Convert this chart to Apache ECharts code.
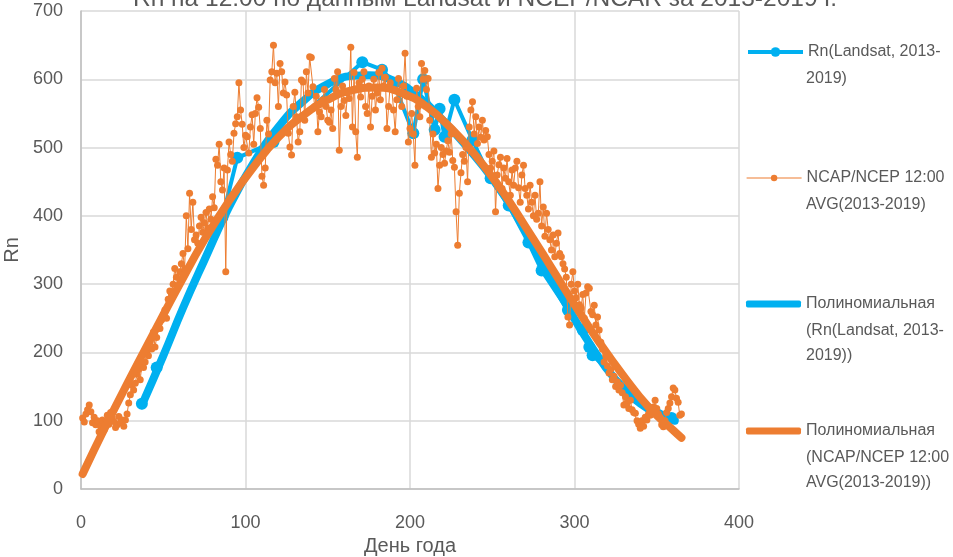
<!DOCTYPE html>
<html><head><meta charset="utf-8">
<script src="https://cdn.jsdelivr.net/npm/echarts@6/dist/echarts.min.js"></script>
<style>html,body{margin:0;padding:0;background:#fff}#c{width:953px;height:557px}</style>
</head><body><div id="c"></div>
<script>
// ---- DATA ----
const titleText = 'Rn на 12:00 по данным Landsat и NCEP/NCAR за 2013-2019 г.';
const xTicks = [0, 100, 200, 300, 400];
const yTicks = [0, 100, 200, 300, 400, 500, 600, 700];
const seriesNames = [
  'Rn(Landsat, 2013-2019)',
  'NCAP/NCEP 12:00 AVG(2013-2019)',
  'Полиномиальная (Rn(Landsat, 2013-2019))',
  'Полиномиальная (NCAP/NCEP 12:00 AVG(2013-2019))'
];
// legend text as wrapped in the picture
const legendLines = [
  ['Rn(Landsat, 2013-', '2019)'],
  ['NCAP/NCEP 12:00', 'AVG(2013-2019)'],
  ['Полиномиальная', '(Rn(Landsat, 2013-', '2019))'],
  ['Полиномиальная', '(NCAP/NCEP 12:00', 'AVG(2013-2019))']
];
// Landsat observations: [day of year, Rn]
const landsatDays = [37, 46, 86, 95, 117, 171, 183, 190, 202, 208, 215, 218, 221, 227, 238, 249, 260, 272, 280, 296, 305, 309, 311, 338, 359];
const landsatRn   = [125, 178, 398, 485, 508, 625, 614, 595, 521, 600, 526, 557, 516, 570, 511, 455, 415, 361, 320, 262, 233, 208, 196, 133, 104];
// NCEP/NCAR 12:00 average, one value per day of year (1..365)
const ncepRn = [
  104, 98, 110, 116, 123, 113, 97, 105, 94, 100,
  84, 92, 101, 86, 98, 108, 95, 112, 104, 99,
  90, 94, 106, 97, 101, 92, 101, 110, 126, 138,
  152, 145, 155, 168, 175, 160, 182, 178, 186, 200,
  195, 215, 205, 230, 208, 222, 240, 235, 248, 255,
  262, 250, 278, 290, 285, 300, 323, 310, 296, 318,
  330, 345, 322, 400, 352, 433, 380, 420, 365, 372,
  360, 385, 398, 376, 390, 405, 382, 410, 395, 428,
  412, 483, 474, 505, 450, 438, 470, 318, 467, 508,
  490, 480, 521, 535, 545, 595, 555, 534, 500, 518,
  516, 492, 530, 548, 505, 550, 573, 559, 528, 458,
  445, 470, 540, 520, 599, 611, 650, 595, 609, 560,
  623, 611, 580, 596, 577, 521, 501, 489, 560, 581,
  545, 508, 523, 599, 596, 540, 611, 580, 633, 632,
  589, 560, 575, 523, 552, 545, 570, 585, 560, 540,
  537, 555, 528, 601, 585, 611, 496, 560, 590, 569,
  547, 580, 572, 647, 530, 610, 523, 486, 595, 574,
  600, 611, 560, 550, 590, 530, 575, 600, 555, 580,
  610, 570, 616, 590, 603, 528, 560, 595, 585, 555,
  523, 570, 601, 580, 560, 590, 638, 575, 508, 528,
  550, 520, 474, 587, 560, 545, 623, 600, 613, 585,
  601, 540, 486, 520, 492, 505, 440, 474, 500, 490,
  477, 495, 510, 493, 520, 481, 471, 406, 357, 433,
  463, 490, 480, 500, 450, 530, 555, 567, 520, 545,
  506, 530, 515, 540, 511, 525, 516, 490, 470, 480,
  495, 406, 460, 475, 486, 440, 470, 455, 484, 450,
  430, 467, 445, 470, 480, 441, 420, 460, 474, 440,
  430, 410, 445, 420, 400, 430, 395, 404, 450, 385,
  413, 370, 404, 380, 365, 350, 372, 340, 360, 375,
  345, 340, 330, 322, 310, 252, 240, 300, 318, 290,
  280, 300, 270, 265, 285, 250, 287, 296, 294, 260,
  255, 269, 240, 252, 233, 215, 205, 186, 195, 180,
  170, 175, 160, 165, 150, 157, 145, 152, 141, 123,
  135, 126, 118, 130, 116, 112, 111, 100, 95, 89,
  100, 92, 105, 101, 110, 108, 115, 120, 130, 118,
  110, 105, 94, 91, 100, 112, 118, 126, 135, 148,
  145, 133, 127, 108, 110
];
// Polynomial trendlines
const landsatTrendDays = [37, 50, 62, 75, 90, 105, 120, 135, 150, 165, 175, 190, 205, 220, 235, 250, 265, 280, 295, 310, 325, 340, 355, 361];
const landsatTrendRn   = [123, 195, 265, 335, 413, 478, 530, 568, 593, 605, 606, 598, 575, 540, 500, 455, 400, 335, 270, 210, 160, 125, 105, 100];
const ncepTrendDays = [1, 15, 30, 45, 60, 75, 90, 105, 120, 135, 150, 165, 180, 195, 210, 225, 240, 255, 270, 285, 300, 315, 330, 345, 360, 365];
const ncepTrendRn   = [22, 92, 163, 232, 300, 365, 422, 472, 515, 547, 570, 584, 588, 580, 560, 528, 488, 440, 385, 328, 270, 215, 165, 120, 86, 75];

// ---- CHART ----
const BLUE = '#00B0F0', ORANGE = '#ED7D31', GREY = '#595959';
const FONT = '"Liberation Sans Narrow","Liberation Sans",Arial,sans-serif';
const pair = (xs, ys) => xs.map((x, i) => [x, ys[i]]);
const ncepData = ncepRn.map((v, i) => [i + 1, v]);

const LEG_X = 746, LEG_W = 55, LINE_H = 24, LINE_SP = 24.5, LEG_FS = 16;
const legendY = [52, 178, 304, 431];
const legendIcons = [
  {h: 12, icon: null, lw: 4},
  {h: 8, icon: null, lw: 1.2},
  {h: 7, icon: 'roundRect', lw: null},
  {h: 7, icon: 'roundRect', lw: null}
];

const chart = echarts.init(document.getElementById('c'), null, {renderer: 'canvas'});
const legends = seriesNames.map((name, i) => {
  const cfg = {
    data: [name], left: LEG_X, top: legendY[i] - LINE_H / 2, orient: 'vertical',
    itemWidth: LEG_W, itemHeight: legendIcons[i].h, itemGap: 0, padding: 0,
    formatter: () => legendLines[i][0],
    textStyle: {color: GREY, fontSize: LEG_FS, fontFamily: FONT, lineHeight: LINE_H},
    selectedMode: false
  };
  if (legendIcons[i].icon) cfg.icon = legendIcons[i].icon;
  if (legendIcons[i].lw) cfg.lineStyle = {width: legendIcons[i].lw};
  return cfg;
});
const extraLegendText = [];
legendLines.forEach((lines, i) => {
  lines.slice(1).forEach((t, k) => {
    extraLegendText.push({type: 'text', left: LEG_X + LEG_W + 5, top: legendY[i] + (k + 1) * LINE_SP - 5.5,
      style: {text: t, fill: GREY, font: LEG_FS + 'px ' + FONT}});
  });
});

chart.setOption({
  animation: false,
  backgroundColor: '#fff',
  title: {text: titleText, left: 480, textAlign: 'center', top: -18,
    textStyle: {color: GREY, fontSize: 24.5, fontWeight: 'normal', fontFamily: FONT}},
  legend: legends,
  graphic: extraLegendText,
  grid: {left: 81, right: 214, top: 11, bottom: 68, containLabel: false, outerBoundsMode: 'none'},
  xAxis: {
    type: 'value', min: xTicks[0], max: xTicks[xTicks.length - 1], interval: 100,
    name: 'День года', nameLocation: 'middle', nameGap: 42,
    nameTextStyle: {color: GREY, fontSize: 20, fontFamily: FONT},
    axisLine: {show: true, lineStyle: {color: '#BFBFBF', width: 1.5}},
    axisTick: {show: false},
    axisLabel: {color: GREY, fontSize: 18, fontFamily: FONT, margin: 25},
    splitLine: {show: true, lineStyle: {color: '#D9D9D9', width: 1.5}}
  },
  yAxis: {
    type: 'value', min: yTicks[0], max: yTicks[yTicks.length - 1], interval: 100,
    name: 'Rn', nameLocation: 'middle', nameGap: 51, nameRotate: 90,
    nameTextStyle: {color: GREY, fontSize: 20, fontFamily: FONT},
    axisLine: {show: true, lineStyle: {color: '#BFBFBF', width: 1.5}},
    axisTick: {show: false},
    axisLabel: {color: GREY, fontSize: 18, fontFamily: FONT, margin: 18},
    splitLine: {show: true, lineStyle: {color: '#D9D9D9', width: 1.5}}
  },
  series: [
    {name: seriesNames[0], type: 'line', data: pair(landsatDays, landsatRn), z: 2,
      symbol: 'circle', symbolSize: 12, showSymbol: true,
      lineStyle: {color: BLUE, width: 4}, itemStyle: {color: BLUE, borderWidth: 0}},
    {name: seriesNames[2], type: 'line', data: pair(landsatTrendDays, landsatTrendRn), z: 3,
      smooth: 0.5, symbol: 'none', lineStyle: {color: BLUE, width: 8, cap: 'round'}, itemStyle: {color: BLUE}},
    {name: seriesNames[1], type: 'line', data: ncepData, z: 4,
      symbol: 'circle', symbolSize: 7, showSymbol: true,
      lineStyle: {color: ORANGE, width: 1}, itemStyle: {color: ORANGE, borderWidth: 0}},
    {name: seriesNames[3], type: 'line', data: pair(ncepTrendDays, ncepTrendRn), z: 5,
      smooth: 0.5, symbol: 'none', lineStyle: {color: ORANGE, width: 8, cap: 'round'}, itemStyle: {color: ORANGE}}
  ]
});
</script>
</body></html>
